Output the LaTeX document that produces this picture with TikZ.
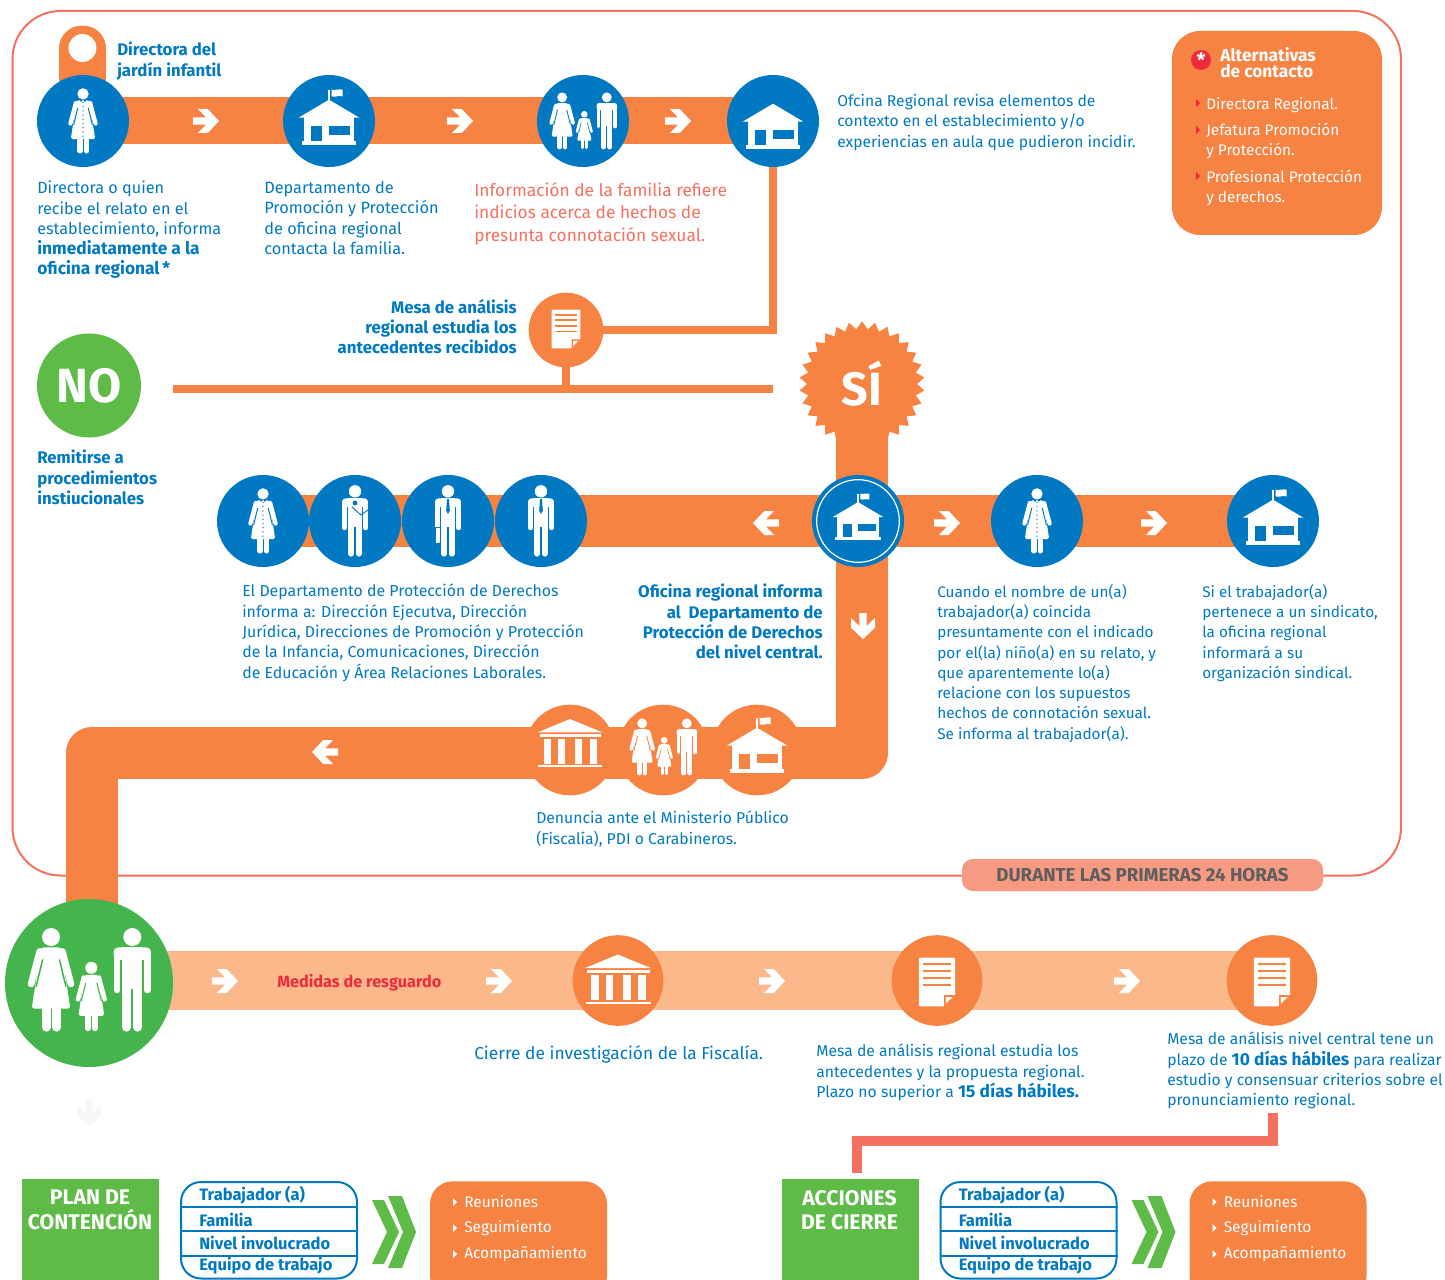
\documentclass[tikz,border=0pt]{standalone}
\usepackage{fontspec}
\setmainfont{Fira Sans}
\usetikzlibrary{shapes.geometric,backgrounds}
\definecolor{nar}{HTML}{F78343}
\definecolor{narc}{HTML}{FAB88B}
\definecolor{azu}{HTML}{0079C2}
\definecolor{ver}{HTML}{5EBB47}
\definecolor{verb}{HTML}{44B54C}
\definecolor{sal}{HTML}{F4705F}
\definecolor{salc}{HTML}{F79A82}
\definecolor{roj}{HTML}{EE2A3C}
\definecolor{gris}{HTML}{5E5E5E}
\definecolor{faint}{HTML}{F6F6F6}
\newcommand\bb[1]{{\fontsize{13}{15.2}\selectfont\bfseries #1}}
\newcommand\fsz[1]{\fontsize{#1}{15.2}\selectfont}
% #1 x #2 y #3 scale #4 fg #5 bg
\newcommand\PWoman[5]{\begin{scope}[shift={(#1,#2)},scale=#3]
\fill[#4] (0,-129) circle (27);
\fill[#4,rounded corners=#3*6pt] (-30,-98) -- (30,-98) -- (58,86) -- (-58,86) -- cycle;
\draw[#4,line width=#3*15pt,line cap=round] (-34,-86) -- (-60,12);
\draw[#4,line width=#3*15pt,line cap=round] (34,-86) -- (60,12);
\draw[#5,line width=#3*3.5pt] (-25,-62) -- (-45,20);
\draw[#5,line width=#3*3.5pt] (25,-62) -- (45,20);
\draw[#4,line width=#3*19.5pt,line cap=round] (-14,80) -- (-14,142);
\draw[#4,line width=#3*19.5pt,line cap=round] (16,80) -- (16,142);
\end{scope}}
\newcommand\PCoat[5]{\PWoman{#1}{#2}{#3}{#4}{#5}
\begin{scope}[shift={(#1,#2)},scale=#3]
\foreach \b in {-88,-68,...,72}{\fill[#5] (0,\b) circle (3.5);}
\fill[#5] (-18,-103) -- (-3,-103) -- (-8,-90) -- cycle;
\fill[#5] (18,-103) -- (3,-103) -- (8,-90) -- cycle;
\end{scope}}
\newcommand\PMan[5]{\begin{scope}[shift={(#1,#2)},scale=#3]
\fill[#4] (0,-129) circle (27);
\fill[#4,rounded corners=#3*10pt] (-56,-60) -- (-56,-98) -- (56,-98) -- (56,-60) -- cycle;
\draw[#4,line width=#3*15pt,line cap=round] (-46,-70) -- (-46,30);
\draw[#4,line width=#3*15pt,line cap=round] (46,-70) -- (46,30);
\fill[#4] (-30,-98) rectangle (30,26);
\draw[#4,line width=#3*19.5pt,line cap=round] (-17,20) -- (-17,142);
\draw[#4,line width=#3*19.5pt,line cap=round] (16,20) -- (16,142);
\end{scope}}
\newcommand\PTie[3]{\begin{scope}[shift={(#1,#2)},scale=#3]
\fill[azu] (-4,-96) -- (4,-96) -- (8,-45) -- (0,-30) -- (-8,-45) -- cycle;
\end{scope}}
\newcommand\PFamily[5]{\pgfmathsetmacro\fa{#1-114*#3}\pgfmathsetmacro\fb{#1+7*#3}\pgfmathsetmacro\fc{#1+130*#3}\pgfmathsetmacro\fy{#2+50*#3}\pgfmathsetmacro\fs{0.67*#3}%
\PWoman{\fa}{#2}{#3}{#4}{#5}\PWoman{\fb}{\fy}{\fs}{#4}{#5}\PMan{\fc}{#2}{#3}{#4}{#5}}
\newcommand\PHouse[5]{\begin{scope}[shift={(#1,#2)},scale=#3]
\fill[#4] (0,-64) -- (91,-10) -- (-91,-10) -- cycle;
\fill[#4] (-76,-12) rectangle (76,60);
\fill[#4] (-82,61) rectangle (82,72);
\fill[#5] (-54,14) rectangle (-20,61);
\fill[#5] (-1,14) rectangle (64,41);
\end{scope}}
\newcommand\PFlag[3]{\begin{scope}[shift={(#1,#2)},scale=#3]
\fill[white] (-3,-94) rectangle (2,-60);
\fill[white] (8,-94) .. controls (18,-90) and (30,-98) .. (41,-94) -- (41,-74) .. controls (30,-78) and (18,-70) .. (8,-74) -- cycle;
\end{scope}}
\newcommand\PBank[3]{\begin{scope}[shift={(#1,#2)},scale=#3,white]
\fill (0,-72) -- (97,-32) -- (-97,-32) -- cycle;
\fill (-91,-27) rectangle (93,-17);
\foreach \c in {-79,-36,15,59}{\fill (\c,-13) rectangle (\c+22,62);}
\fill (-95,67) rectangle (97,73);
\end{scope}}
\newcommand\PDoc[4]{\begin{scope}[shift={(#1,#2)},scale=#3]
\fill[white,rounded corners=#3*2pt] (-43,-58) -- (43,-58) -- (43,31) -- (17,58) -- (-43,58) -- cycle;
\foreach \l in {-43,-27,-10,8}{\fill[#4] (-33,\l-2.5) rectangle (34,\l+2.5);}
\fill[#4] (17,31) -- (43,31) -- (17,58) -- cycle;
\fill[white] (21,36) -- (36,36) -- (21,51) -- cycle;
\end{scope}}
\newcommand\PArrow[4]{\begin{scope}[shift={(#1,#2)},rotate=#3]
\fill[#4] (-8,-12) -- (1.7,-12) -- (13,0) -- (1.7,12) -- (-8,12) -- (0,3.7) -- (-13,3.7) -- (-13,-3.7) -- (0,-3.7) -- cycle;
\end{scope}}
\newcommand\Grupo[3]{%
\begin{scope}[shift={(#1,0)}]
\node[cajav] (#2t) at (90.5,1229.5) {};
\node[titv,anchor=north] (#2u) at (90,1190) {#3};
\draw[azu,line width=1.5pt,rounded corners=15pt] (181,1182) rectangle (357,1278.5);
\draw[azu,line width=1.5pt] (181,1207) -- (358,1207) (181,1231) -- (358,1231) (181,1255.5) -- (358,1255.5);
\node[tabt] (#2a) at (199,1195.5) {Trabajador (a)};
\node[tabt] (#2b) at (199,1219.5) {Familia};
\node[tabt] (#2c) at (199,1243) {Nivel involucrado};
\node[tabt] (#2d) at (199,1266) {Equipo de trabajo};
\fill[ver] (372,1200) -- (384,1200) -- (399,1232) -- (384,1264) -- (372,1264) -- (387,1232) -- cycle;
\fill[ver] (388,1196) -- (402,1196) -- (416,1232) -- (402,1268) -- (388,1268) -- (403,1232) -- cycle;
\node[cajan] (#2o) at (518.5,1240) {};
\foreach \iy/\it/\in in {1202/Reuniones/e,1228/Seguimiento/f,1254/Acompañamiento/g}{
\fill[white] (453,\iy-4) -- (457,\iy) -- (453,\iy+4) -- cycle;
\node[lista] (#2\in) at (464,\iy) {\it};}
\end{scope}}
\tikzset{
 x=0.75pt,y=-0.75pt,
 circb/.style={circle,minimum size=69pt,inner sep=0pt,fill=azu},
 circn/.style={circle,minimum size=68pt,inner sep=0pt,fill=nar},
 bandt/.style={nar,line width=35.25pt},
 bandm/.style={nar,line width=39pt},
 bandl/.style={narc,line width=44.25pt},
 thinb/.style={nar,line width=5.6pt},
 txt/.style={inner sep=0pt,anchor=north west,align=left,text=azu,font=\fsz{11.9}},
 txtr/.style={inner sep=0pt,anchor=north east,align=right,text=azu,font=\fsz{12.6}\bfseries},
 txtb/.style={txt,font=\fsz{12.6}\bfseries},
 cajav/.style={fill=ver,inner sep=0pt,minimum width=102.75pt,minimum height=76pt},
 cajan/.style={fill=nar,inner sep=0pt,rounded corners=17pt,minimum width=132.75pt,minimum height=88pt},
 titv/.style={inner sep=0pt,align=center,text=white,font=\fontsize{15.9}{18.2}\selectfont\bfseries},
 tabt/.style={inner sep=0pt,anchor=west,text=azu,font=\fontsize{12.4}{13}\selectfont\bfseries},
 lista/.style={inner sep=0pt,anchor=west,text=white,font=\fontsize{11.6}{13}\selectfont},
}
\begin{document}
\begin{tikzpicture}
\clip (0,0) rectangle (1445,1280);
% ---- nodes top row
\node[fill=nar,inner sep=0pt,rounded corners=17pt,minimum width=35.25pt,minimum height=56pt] (tab) at (82.5,63) {};
\node[circle,fill=white,inner sep=0pt,minimum size=21pt] (tabc) at (82.5,48) {};
\node[circb] (c1) at (83,121) {};
\node[circb] (c2) at (329,121) {};
\node[circb] (c3) at (583,121) {};
\node[circb] (c4) at (773,121) {};
\node[circn,minimum size=56pt] (doca) at (566,330) {};
\coordinate (la) at (173,389);
\coordinate (lb) at (773,389);
\node[circle,fill=ver,inner sep=0pt,minimum size=78pt,text=white,font=\fontsize{36}{36}\selectfont\bfseries] (no) at (89,385.5) {NO};
\node[star,star points=30,star point ratio=1.14,fill=nar,inner sep=0pt,minimum size=94pt,text=white,font=\fontsize{35}{35}\selectfont\bfseries] (si) at (862,384) {SÍ};
\node[circb] (m1) at (263,521) {};
\node[circb] (m2) at (355,521) {};
\node[circb] (m3) at (448,521) {};
\node[circb] (m4) at (541,521) {};
\node[circb] (hub) at (858,521) {};
\node[circle,draw=white,line width=0.9pt,inner sep=0pt,minimum size=62pt] (hubr) at (858,521) {};
\node[circb] (m5) at (1037,521) {};
\node[circb] (m6) at (1273,521) {};
\node[circn] (d1) at (570,750) {};
\node[circn] (d2) at (663,750) {};
\node[circn] (d3) at (757,750) {};
\coordinate (lc) at (91.5,753);
\node[circle,fill=verb,inner sep=0pt,minimum size=126pt] (fam) at (89,983) {};
\node[circn] (f1) at (618,980.5) {};
\node[circn] (f2) at (937,980.5) {};
\node[circn] (f3) at (1272,980.5) {};
\coordinate (sa) at (1273,1113);
\coordinate (sb) at (857,1173);
% ---- background: frame and bands
\begin{scope}[on background layer]
\draw[sal,line width=1.5pt,rounded corners=36pt] (12.5,11) rectangle (1401,875.5);
\draw[bandt] (c1.center) -- (c4.center);
\draw[thinb] (c4.center) |- (doca.center);
\draw[nar,line width=6pt] (la) -- (lb);
\draw[nar,line width=6pt] (doca.center) -- (doca.center |- la);
\draw[bandm] (m1.center) -- (m6.center);
\draw[nar,line width=39pt,line join=round] (si.center) |- (lc) -- (lc |- fam.center);
\draw[bandl] (fam.center |- f1.center) -- (f3.center);
\draw[sal,line width=7.5pt] (sa) |- (1000,1141) -| (sb);
\end{scope}
% ---- label
\node[fill=salc,rounded corners=8pt,inner sep=0pt,minimum width=270.75pt,minimum height=24pt,text=gris,font=\fontsize{14}{14}\selectfont\bfseries] (dur) at (1142.5,875) {DURANTE LAS PRIMERAS 24 HORAS};
% ---- pictograms
\PCoat{83}{121}{0.21}{white}{azu}
\PHouse{329}{121}{0.333}{white}{azu}\PFlag{329}{121}{0.333}
\PFamily{583}{121}{0.183}{white}{azu}
\PHouse{773}{125}{0.333}{white}{azu}
\PDoc{566}{329}{0.333}{nar}
\PCoat{263}{521}{0.21}{white}{azu}
\PMan{355}{521}{0.23}{white}{azu}
\fill[azu] (355,503) circle (2.4);
\draw[azu,line width=0.7pt] (352,507) -- (361,515) -- (368,510);
\PMan{448}{521}{0.23}{white}{azu}\PTie{448}{521}{0.23}
\fill[white,rounded corners=0.8pt] (435,527) rectangle (440,543);
\draw[azu,line width=0.4pt] (435.2,527) rectangle (440.2,543);
\PMan{541}{521}{0.23}{white}{azu}\PTie{541}{521}{0.23}
\PHouse{858}{520}{0.28}{white}{azu}\PFlag{858}{520}{0.28}
\PCoat{1037}{521}{0.21}{white}{azu}
\PHouse{1273}{521}{0.333}{white}{azu}\PFlag{1273}{521}{0.333}
\PBank{570}{743}{0.333}
\PFamily{663}{747}{0.183}{white}{nar}
\PHouse{757}{749}{0.333}{white}{nar}\PFlag{757}{749}{0.333}
\PFamily{89}{980}{0.333}{white}{verb}
\PBank{618}{979}{0.34}
\PDoc{937}{982}{0.42}{nar}
\PDoc{1272}{982}{0.42}{nar}
% ---- arrow icons
\PArrow{206}{121}{0}{white}\PArrow{460}{121}{0}{white}\PArrow{678}{121}{0}{white}
\PArrow{766}{523}{180}{white}\PArrow{947}{523}{0}{white}\PArrow{1154}{523}{0}{white}
\PArrow{863}{626}{270}{white}\PArrow{325}{752}{180}{white}
\PArrow{225}{981}{0}{white}\PArrow{499}{981}{0}{white}\PArrow{772}{981}{0}{white}\PArrow{1127}{981}{0}{white}
\PArrow{89}{1113}{270}{faint}
% ---- texts
\node[txtb] (t1) at (117,42) {Directora del\\jardín infantil};
\node[txt,font=\fsz{12.15}] (t2) at (37,181) {Directora o quien\\recibe el relato en el\\establecimiento, informa\\\bb{inmediatamente a la}\\\bb{oficina regional\,*}};
\node[txt,font=\fsz{12.25}] (t3) at (264,181) {Departamento de\\Promoción y Protección\\de oficina regional\\contacta la familia.};
\node[txt,text=sal,font=\fontsize{13}{17}\selectfont] (t4) at (474,182) {Información de la familia refiere\\indicios acerca de hechos de\\presunta connotación sexual.};
\node[txt,font=\fsz{11.75}] (t5) at (837,94) {Ofcina Regional revisa elementos de\\contexto en el establecimiento y/o\\experiencias en aula que pudieron incidir.};
\node[txtr] (t6) at (517,299) {Mesa de análisis\\regional estudia los\\antecedentes recibidos};
\node[txtb] (t7) at (37,450) {Remitirse a\\procedimientos\\instiucionales};
\node[txt] (t8) at (242,584) {El Departamento de Protección de Derechos\\informa a: Dirección Ejecutva, Dirección\\Jurídica, Direcciones de Promoción y Protección\\de la Infancia, Comunicaciones, Dirección\\de Educación y Área Relaciones Laborales.};
\node[txtr] (t9) at (823,584) {Oficina regional informa\\al\ \ Departamento de\\Protección de Derechos\\del nivel central.};
\node[txt,font=\fsz{11.5}] (t10) at (937,584) {Cuando el nombre de un(a)\\trabajador(a) coincida\\presuntamente con el indicado\\por el(la) niño(a) en su relato, y\\que aparentemente lo(a)\\relacione con los supuestos\\hechos de connotación sexual.\\Se informa al trabajador(a).};
\node[txt,font=\fsz{11.5}] (t11) at (1202,584) {Si el trabajador(a)\\pertenece a un sindicato,\\la oficina regional\\informará a su\\organización sindical.};
\node[txt,font=\fsz{11.8}] (t12) at (536,811) {Denuncia ante el Ministerio Público\\(Fiscalía), PDI o Carabineros.};
\node[txt,font=\fontsize{13}{17}\selectfont] (t13) at (474,1045) {Cierre de investigación de la Fiscalía.};
\node[txt,font=\fsz{11.8}] (t14) at (816,1044) {Mesa de análisis regional estudia los\\antecedentes y la propuesta regional.\\Plazo no superior a \bb{15 días hábiles.}};
\node[txt,font=\fsz{11.75}] (t15) at (1167,1032) {Mesa de análisis nivel central tene un\\plazo de \bb{10 días hábiles} para realizar\\estudio y consensuar criterios sobre el\\pronunciamiento regional.};
\node[txtb,text=roj,anchor=west,font=\fontsize{12.2}{15}\selectfont\bfseries] (t16) at (277,983) {Medidas de resguardo};
% ---- alternativas
\node[fill=nar,inner sep=0pt,rounded corners=21pt,minimum width=157.5pt,minimum height=153pt] (alt) at (1277,133) {};
\node[circle,fill=roj,inner sep=0pt,minimum size=15pt,text=white,font=\fontsize{15}{15}\selectfont\bfseries] (altc) at (1201,60) {\raisebox{-0.28em}{*}};
\node[txtb,text=white,font=\fontsize{13}{12}\selectfont\bfseries] (altt) at (1220,47.5) {Alternativas\\de contacto};
\node[txt,text=white,font=\fsz{11.5}] (alta) at (1206,97) {Directora Regional.};
\node[txt,text=white,font=\fsz{11.5}] (altb) at (1206,123) {Jefatura Promoción\\y Protección.};
\node[txt,text=white,font=\fsz{11.5}] (altd) at (1206,169.5) {Profesional Protección\\y derechos.};
\foreach \ay in {103,130,176}{\fill[roj] (1196,\ay-4) -- (1200,\ay) -- (1196,\ay+4) -- cycle;}
% ---- bottom groups
\Grupo{0}{pa}{PLAN DE\\CONTENCIÓN}
\Grupo{759.5}{pb}{ACCIONES\\DE CIERRE}
\end{tikzpicture}
\end{document}
